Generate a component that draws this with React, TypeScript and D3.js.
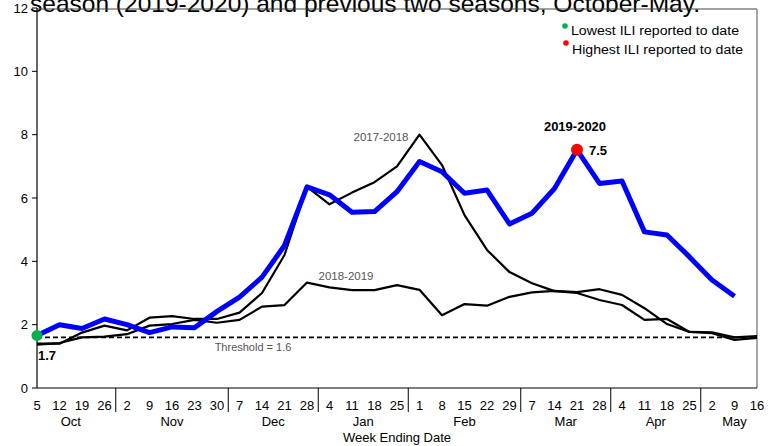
import React from "react";
import * as d3 from "d3";

const weekLabels = ["5","12","19","26","2","9","16","23","30","7","14","21","28","4","11","18","25","1","8","15","22","29","7","14","21","28","4","11","18","25","2","9","16"];
const months = ["Oct","Nov","Dec","Jan","Feb","Mar","Apr","May"];
const monthWeeks = [4,5,4,4,5,4,4,3];
const yTicks = [0,2,4,6,8,10,12];

const s2017 = [1.4,1.4,1.75,1.97,1.82,2.22,2.27,2.18,2.18,2.38,3.0,4.2,6.35,5.8,6.17,6.5,7.0,8.0,7.04,5.46,4.36,3.66,3.31,3.06,3.0,2.78,2.62,2.15,2.18,1.77,1.73,1.52,1.58];
const s2018 = [1.37,1.42,1.6,1.62,1.7,1.97,2.02,2.15,2.06,2.15,2.57,2.62,3.33,3.18,3.09,3.09,3.25,3.1,2.3,2.65,2.6,2.88,3.02,3.07,3.03,3.12,2.94,2.52,2.02,1.77,1.76,1.6,1.64];
const s2019 = [1.66,2.0,1.88,2.18,2.0,1.75,1.93,1.9,2.42,2.87,3.5,4.5,6.35,6.1,5.55,5.57,6.2,7.15,6.83,6.15,6.25,5.18,5.52,6.3,7.52,6.46,6.54,4.93,4.83,4.14,3.41,2.9];
const threshold = 1.6;

const W = 780, H = 446;
const L = 37, R = 757, T = 8, B = 388;

export default function App() {
  const x = d3.scalePoint<number>().domain(d3.range(weekLabels.length)).range([L, R]);
  const y = d3.scaleLinear().domain([0, 12]).range([B, T]);
  const line = d3.line<number>().x((_, i) => x(i)!).y((d) => y(d));
  const step = x.step();
  let acc = 0;
  const seps: number[] = [];
  const monthPos: { m: string; cx: number }[] = [];
  monthWeeks.forEach((n, k) => {
    const first = acc, last = acc + n - 1;
    monthPos.push({ m: months[k], cx: (x(first)! + x(last)!) / 2 });
    acc += n;
    if (k < monthWeeks.length - 1) seps.push(x(last)! + step / 2);
  });
  const peakI = s2019.indexOf(d3.max(s2019)!);
  const font = "Liberation Sans, Arial, sans-serif";
  return (
    <div style={{ position: "absolute", left: 0, top: 0 }}>
      <svg width={W} height={H} style={{ display: "block", fontFamily: font }}>
        <rect width={W} height={H} fill="#fff" />
        <text x={30} y={12} fontSize={24} fill="#000" textLength={670} lengthAdjust="spacingAndGlyphs">season (2019-2020) and previous two seasons, October-May.</text>
        {/* frame */}
        <line x1={L} x2={R} y1={T + 1} y2={T + 1} stroke="#444" strokeWidth={1} />
        <line x1={R} x2={R} y1={T + 1} y2={B} stroke="#888" strokeWidth={1.5} />
        {/* y axis */}
        <line x1={L} x2={L} y1={T} y2={B} stroke="#000" strokeWidth={1.2} />
        {yTicks.map((t) => (
          <g key={t}>
            <line x1={L - 5} x2={L} y1={y(t)} y2={y(t)} stroke="#000" />
            <text x={L - 9} y={y(t)} dy="0.35em" textAnchor="end" fontSize={13} fill="#000">{t}</text>
          </g>
        ))}
        {/* x axis */}
        <line x1={L} x2={R} y1={B} y2={B} stroke="#000" strokeWidth={1.2} />
        {seps.map((sx, i) => (
          <line key={i} x1={sx} x2={sx} y1={B} y2={B + 24} stroke="#000" strokeWidth={1} />
        ))}
        {weekLabels.map((w, i) => (
          <text key={i} x={x(i)} y={410} textAnchor="middle" fontSize={13} fill="#000">{w}</text>
        ))}
        {monthPos.map((m) => (
          <text key={m.m} x={m.cx} y={426} textAnchor="middle" fontSize={13} fill="#000">{m.m}</text>
        ))}
        <text x={(L + R) / 2} y={442} textAnchor="middle" fontSize={13} fill="#000">Week Ending Date</text>
        {/* threshold */}
        <line x1={L} x2={R} y1={y(threshold)} y2={y(threshold)} stroke="#000" strokeWidth={1.6} strokeDasharray="5,3" />
        <text x={253} y={351} textAnchor="middle" fontSize={11} fill="#555">Threshold = {threshold}</text>
        {/* series */}
        <path d={line(s2018)!} fill="none" stroke="#000" strokeWidth={2.2} strokeLinejoin="round" />
        <path d={line(s2017)!} fill="none" stroke="#000" strokeWidth={2.2} strokeLinejoin="round" />
        <path d={line(s2019)!} fill="none" stroke="#0000ff" strokeWidth={5} strokeLinejoin="round" />
        <text x={381} y={141} textAnchor="middle" fontSize={11.5} fill="#555">2017-2018</text>
        <text x={346} y={280} textAnchor="middle" fontSize={11.5} fill="#555">2018-2019</text>
        <text x={575} y={131} textAnchor="middle" fontSize={13} fontWeight="bold" fill="#000">2019-2020</text>
        <circle cx={x(0)} cy={y(s2019[0])} r={5.5} fill="#00b050" />
        <text x={38} y={360} fontSize={13} fontWeight="bold" fill="#000">{s2019[0].toFixed(1)}</text>
        <circle cx={x(peakI)} cy={y(s2019[peakI])} r={6} fill="#ff0000" />
        <text x={589} y={155} fontSize={13} fontWeight="bold" fill="#000">{s2019[peakI].toFixed(1)}</text>
        {/* legend */}
        <circle cx={565} cy={26} r={2.8} fill="#00b050" />
        <text x={571} y={35} fontSize={12.5} fill="#000" textLength={168} lengthAdjust="spacingAndGlyphs">Lowest ILI reported to date</text>
        <circle cx={566} cy={43} r={2.8} fill="#ff0000" />
        <text x={572} y={54} fontSize={12.5} fill="#000" textLength={171} lengthAdjust="spacingAndGlyphs">Highest ILI reported to date</text>
      </svg>
    </div>
  );
}
